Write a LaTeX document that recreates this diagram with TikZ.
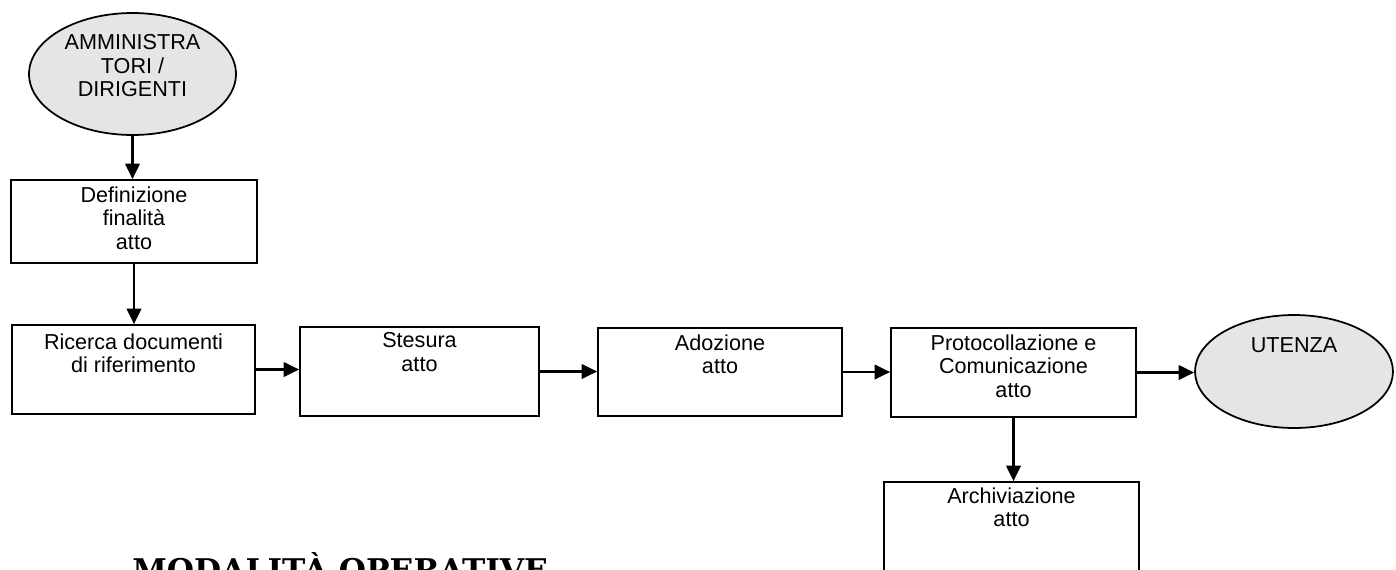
\documentclass[tikz,border=0pt]{standalone}
\usepackage{fontspec}
\setmainfont{Liberation Sans}
\newfontfamily\titlefont{DejaVu Serif Bold}
\usetikzlibrary{arrows.meta,positioning,shapes.geometric}
\begin{document}
\begin{tikzpicture}[x=0.02cm, y=-0.02cm,
        box/.style={draw, line width=1pt, rectangle, inner sep=0pt},
        actor/.style={draw, line width=1pt, ellipse, fill=gray!20, inner sep=0pt},
        txt/.style={align=center, inner sep=0pt, font=\fontsize{12.3}{13.4}\selectfont},
        arr/.style={line width=1.2pt, -{Triangle[length=0.31cm, width=0.29cm]}}]
        \useasboundingbox (0,0) rectangle (1396,569);
        \node [actor, minimum width=4.14cm, minimum height=2.44cm] (amm) at (132.5,74) {};
        \node [txt, below=0.44cm of amm.north] (amm-t) {AMMINISTRA\\TORI /\\DIRIGENTI};
        \node [box, minimum width=4.92cm, minimum height=1.66cm] (fin) at (134,221.5) {};
        \node [txt, below=0.14cm of fin.north] (fin-t) {Definizione\\finalità\\atto};
        \node [box, minimum width=4.86cm, minimum height=1.78cm] (ric) at (133.5,369.5) {};
        \node [txt, below=0.18cm of ric.north] (ric-t) {Ricerca documenti\\di riferimento};
        \node [box, minimum width=4.78cm, minimum height=1.78cm] (ste) at (419.5,371.5) {};
        \node [txt, below=0.12cm of ste.north] (ste-t) {Stesura\\atto};
        \node [box, minimum width=4.88cm, minimum height=1.76cm] (ado) at (720,372) {};
        \node [txt, below=0.14cm of ado.north] (ado-t) {Adozione\\atto};
        \node [box, minimum width=4.9cm, minimum height=1.78cm] (pro) at (1013.5,372.5) {};
        \node [txt, below=0.14cm of pro.north] (pro-t) {Protocollazione e\\Comunicazione\\atto};
        \node [actor, minimum width=3.96cm, minimum height=2.26cm] (ute) at (1294,371.5) {};
        \node [txt, below=0.46cm of ute.north] (ute-t) {UTENZA};
        \node [box, minimum width=5.1cm, minimum height=2.76cm] (arc) at (1011.5,551) {};
        \node [txt, below=0.12cm of arc.north] (arc-t) {Archiviazione\\atto};
        \node [anchor=base west, inner sep=0pt, font=\titlefont\fontsize{17.8}{20}\selectfont] (title) at (132,581) {MODALITÀ OPERATIVE};
        %
        \draw [arr] (amm.south) -- (amm.south |- fin.north);
        \draw [arr] (fin.south) -- (fin.south |- ric.north);
        \draw [arr] (ric.east) -- (ric.east -| ste.west);
        \draw [arr] (ste.east) -- (ste.east -| ado.west);
        \draw [arr] (ado.east) -- (ado.east -| pro.west);
        \draw [arr] (pro.east) -- (pro.east -| ute.west);
        \draw [arr] (pro.south) -- (pro.south |- arc.north);
\end{tikzpicture}
\end{document}
